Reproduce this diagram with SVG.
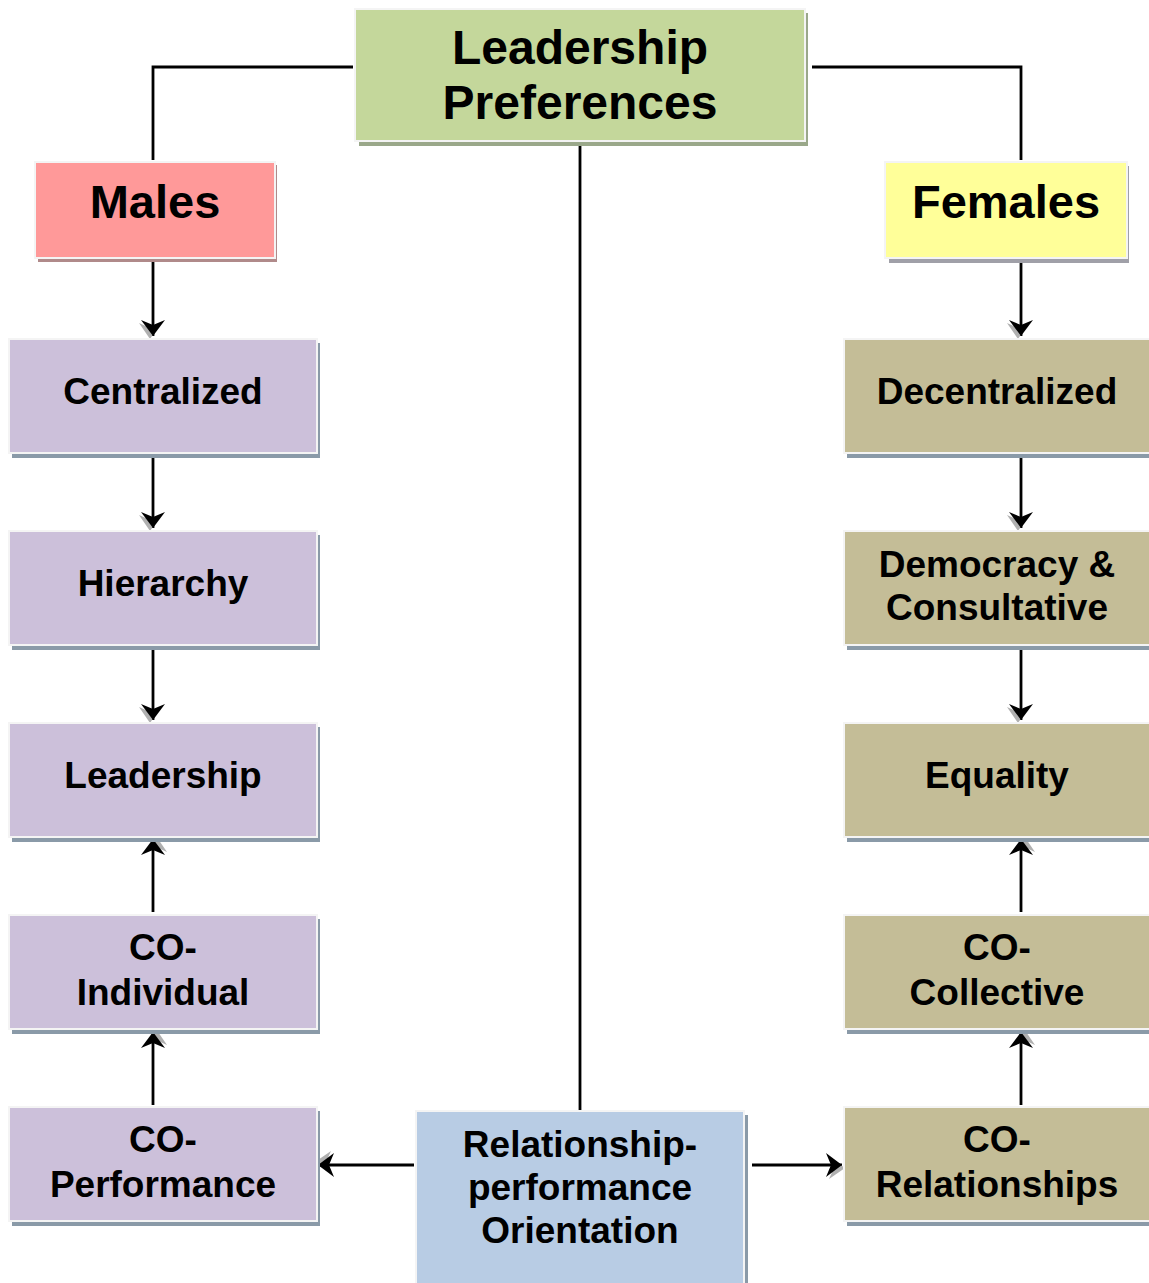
<svg xmlns="http://www.w3.org/2000/svg" width="1149" height="1283" viewBox="0 0 1149 1283">
<defs>
<style>
.t{font-family:"Liberation Sans",Arial,sans-serif;font-weight:bold;fill:#000;text-anchor:middle}
.n{font-size:37px}
.big{font-size:47px}
.box{stroke:#f4f4f4;stroke-width:2}
.ln{stroke:#000;stroke-width:2.8;fill:none}
</style>
<marker id="ah" markerUnits="userSpaceOnUse" viewBox="-2 -2 24 32" markerWidth="24" markerHeight="32" refX="16" refY="13" orient="auto">
<path d="M0,2 L16,13 L0,24 L5,13 Z" fill="#b0b0b0" transform="translate(3,3)"/>
<path d="M0,1 L16,13 L0,25 L5,13 Z" fill="#000"/>
</marker>
</defs>
<rect width="1149" height="1283" fill="#fff"/>

<g id="connectors">
<path class="ln" d="M353,67 H153 V160"/>
<path class="ln" d="M812,67 H1021 V160"/>
<path class="ln" d="M580,146 V1110"/>
<path class="ln" d="M153,260 V336" marker-end="url(#ah)"/>
<path class="ln" d="M153,455 V528" marker-end="url(#ah)"/>
<path class="ln" d="M153,647 V720" marker-end="url(#ah)"/>
<path class="ln" d="M153,912 V839" marker-end="url(#ah)"/>
<path class="ln" d="M153,1105 V1032" marker-end="url(#ah)"/>
<path class="ln" d="M1021,260 V336" marker-end="url(#ah)"/>
<path class="ln" d="M1021,455 V528" marker-end="url(#ah)"/>
<path class="ln" d="M1021,647 V720" marker-end="url(#ah)"/>
<path class="ln" d="M1021,912 V839" marker-end="url(#ah)"/>
<path class="ln" d="M1021,1105 V1032" marker-end="url(#ah)"/>
<path class="ln" d="M414,1165 H318" marker-end="url(#ah)"/>
<path class="ln" d="M752,1165 H842" marker-end="url(#ah)"/>
</g>

<g id="top">
<rect x="359" y="13" width="449" height="133" fill="#9aa88a"/>
<rect class="box" x="355" y="9" width="450" height="132" fill="#c4d79b"/>
<text class="t" x="580" y="64" font-size="48">Leadership</text>
<text class="t" x="580" y="119" font-size="48">Preferences</text>
</g>

<g id="males">
<rect x="38" y="165" width="239" height="97" fill="#b08a8a"/>
<rect class="box" x="35" y="162" width="240" height="96" fill="#ff9999"/>
<text class="t big" x="155" y="218">Males</text>
</g>

<g id="females">
<rect x="889" y="166" width="240" height="97" fill="#a0a0a8"/>
<rect class="box" x="885" y="162" width="242" height="96" fill="#ffff99"/>
<text class="t big" x="1006" y="218">Females</text>
</g>

<g id="centralized">
<rect x="12" y="343" width="308" height="115" fill="#8a9aa8"/>
<rect class="box" x="9" y="339" width="308" height="114" fill="#ccc0da"/>
<text class="t n" x="163" y="404">Centralized</text>
</g>
<g id="hierarchy">
<rect x="12" y="535" width="308" height="115" fill="#8a9aa8"/>
<rect class="box" x="9" y="531" width="308" height="114" fill="#ccc0da"/>
<text class="t n" x="163" y="596">Hierarchy</text>
</g>
<g id="leadership">
<rect x="12" y="727" width="308" height="115" fill="#8a9aa8"/>
<rect class="box" x="9" y="723" width="308" height="114" fill="#ccc0da"/>
<text class="t n" x="163" y="788">Leadership</text>
</g>
<g id="co-individual">
<rect x="12" y="919" width="308" height="115" fill="#8a9aa8"/>
<rect class="box" x="9" y="915" width="308" height="114" fill="#ccc0da"/>
<text class="t n" x="163" y="960">CO-</text>
<text class="t n" x="163" y="1005">Individual</text>
</g>
<g id="co-performance">
<rect x="12" y="1111" width="308" height="115" fill="#8a9aa8"/>
<rect class="box" x="9" y="1107" width="308" height="114" fill="#ccc0da"/>
<text class="t n" x="163" y="1152">CO-</text>
<text class="t n" x="163" y="1197">Performance</text>
</g>

<g id="decentralized">
<rect x="847" y="343" width="308" height="115" fill="#8a9aa8"/>
<rect class="box" x="844" y="339" width="308" height="114" fill="#c4bd97"/>
<text class="t n" x="997" y="404">Decentralized</text>
</g>
<g id="democracy">
<rect x="847" y="535" width="308" height="115" fill="#8a9aa8"/>
<rect class="box" x="844" y="531" width="308" height="114" fill="#c4bd97"/>
<text class="t n" x="997" y="577">Democracy &amp;</text>
<text class="t n" x="997" y="620">Consultative</text>
</g>
<g id="equality">
<rect x="847" y="727" width="308" height="115" fill="#8a9aa8"/>
<rect class="box" x="844" y="723" width="308" height="114" fill="#c4bd97"/>
<text class="t n" x="997" y="788">Equality</text>
</g>
<g id="co-collective">
<rect x="847" y="919" width="308" height="115" fill="#8a9aa8"/>
<rect class="box" x="844" y="915" width="308" height="114" fill="#c4bd97"/>
<text class="t n" x="997" y="960">CO-</text>
<text class="t n" x="997" y="1005">Collective</text>
</g>
<g id="co-relationships">
<rect x="847" y="1111" width="308" height="115" fill="#8a9aa8"/>
<rect class="box" x="844" y="1107" width="308" height="114" fill="#c4bd97"/>
<text class="t n" x="997" y="1152">CO-</text>
<text class="t n" x="997" y="1197">Relationships</text>
</g>

<g id="orientation">
<rect x="420" y="1115" width="328" height="172" fill="#8a9aa8"/>
<rect class="box" x="416" y="1111" width="328" height="174" fill="#b8cce4"/>
<text class="t n" x="580" y="1157">Relationship-</text>
<text class="t n" x="580" y="1200">performance</text>
<text class="t n" x="580" y="1243">Orientation</text>
</g>
</svg>
